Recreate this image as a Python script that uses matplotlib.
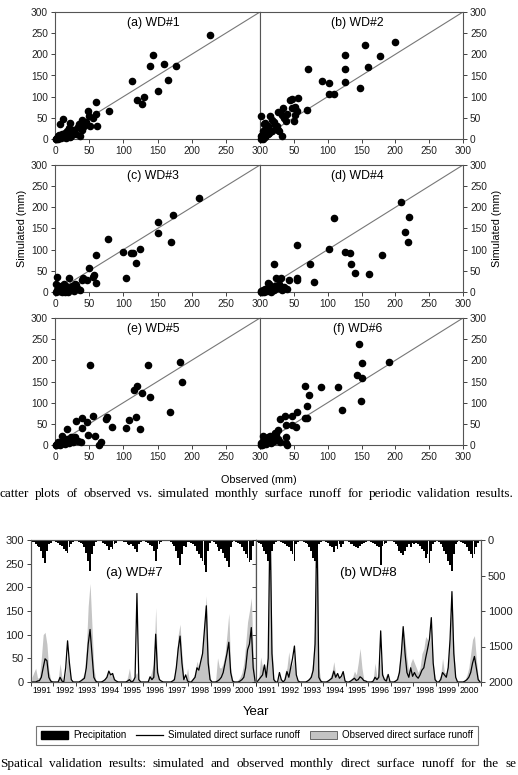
import matplotlib
matplotlib.use('Agg')
import matplotlib.pyplot as plt
import numpy as np
from matplotlib.patches import Patch
from matplotlib.lines import Line2D

plt.rcParams['font.family'] = ['Liberation Sans', 'DejaVu Sans']

# ---- scatter data: observed vs simulated (mm) ----
obs_wd1 = [227,144,139,159,177,166,113,150,120,130,128,79,60,60,49,56,61,51,39,33,37,11,7,22,27,17,15,5,2,
           3,6,8,10,12,14,18,20,24,28,30,35,42,45,50,4,9,13,19,25,1,16,22,40,44]
sim_wd1 = [246,199,172,177,172,140,136,113,93,99,83,65,87,60,65,50,30,30,46,28,8,48,36,38,22,18,8,6,0,
           2,10,4,12,6,15,10,25,8,20,12,35,30,40,55,0,3,5,15,12,1,2,5,22,35]
obs_wd2 = [200,155,178,125,125,159,71,92,102,125,148,102,109,69,56,48,44,51,47,51,50,54,34,27,32,39,15,2,27,32,12,22,7,17,2,
           1,3,5,8,10,14,18,20,25,4,6,12,28,36,40]
sim_wd2 = [229,221,197,199,165,169,166,136,132,135,120,106,106,69,98,95,93,76,73,57,42,65,73,63,57,42,55,54,22,8,30,34,38,18,6,
           0,10,20,5,25,15,45,40,30,0,35,12,20,50,60]
obs_wd3 = [211,173,151,151,170,77,100,114,111,125,119,104,60,50,57,60,56,41,39,47,29,20,3,
           1,3,5,7,9,11,13,15,17,19,22,25,28,31,34,2,6,10,14,18,24,30,36]
sim_wd3 = [221,181,166,140,118,125,95,92,91,101,68,34,87,57,41,21,36,33,28,28,20,33,36,
           0,5,10,2,15,8,18,4,12,0,6,14,3,10,8,20,2,0,0,5,12,16,5]
obs_wd4 = [209,220,215,219,110,54,102,125,133,134,141,180,161,74,80,20,54,54,43,31,23,12,
           1,2,4,6,8,10,12,15,18,20,22,25,28,32,36,40,3,7,14,16]
sim_wd4 = [212,178,142,117,175,110,101,95,92,66,45,87,42,66,24,66,33,28,28,33,32,22,
           0,2,5,1,8,3,10,6,12,4,15,9,18,5,12,8,0,2,20,0]
obs_wd5 = [51,136,183,186,120,115,127,139,168,119,109,104,125,83,76,75,55,49,58,68,40,47,31,40,17,38,29,
           1,3,5,7,9,11,13,15,18,21,24,27,2,6,10,14,20,26,33,65]
sim_wd5 = [189,189,195,150,140,130,124,113,79,66,58,39,37,42,67,61,69,24,22,8,63,55,57,39,37,8,20,
           0,2,6,1,8,4,12,3,15,10,18,6,0,3,22,12,5,14,10,0]
obs_wd6 = [146,151,190,143,151,149,121,116,90,67,73,70,67,70,55,48,37,30,39,47,53,39,39,27,22,15,
           1,2,4,6,8,10,12,14,16,18,20,23,26,29,3,5,9,13,40]
sim_wd6 = [238,193,197,166,158,103,83,138,137,140,118,93,63,63,77,69,69,61,47,47,42,20,4,36,28,22,
           0,5,10,3,15,8,20,12,5,18,10,25,15,8,0,22,2,12,0]
scatter_titles = ['(a) WD#1', '(b) WD#2', '(c) WD#3', '(d) WD#4', '(e) WD#5', '(f) WD#6']

# ---- monthly series 1991-2000 (mm) ----
years = [1991,1992,1993,1994,1995,1996,1997,1998,1999,2000]
sim_wd7 = [0,0,0,2,3,10,30,49,45,10,2,0,
           0,0,0,10,2,0,30,87,40,5,0,0,
           0,0,2,5,8,30,80,111,60,10,2,0,
           0,0,2,5,10,23,15,18,5,2,0,0,
           0,0,0,2,5,0,2,10,187,5,0,0,
           0,0,0,11,5,10,101,20,5,2,0,0,
           0,0,0,2,5,30,70,97,40,5,15,2,
           0,0,5,10,30,25,43,60,110,161,40,5,
           0,0,0,2,5,10,20,40,60,84,20,2,
           0,0,0,2,5,10,30,68,80,115,30,2]
obs_wd7 = [10,20,29,8,10,50,100,105,80,25,5,2,
           0,0,5,39,10,0,20,60,30,5,0,0,
           0,0,5,10,20,70,160,208,120,30,5,0,
           0,0,3,8,15,25,12,20,5,0,0,0,
           0,0,0,10,29,5,5,15,20,5,0,0,
           0,0,5,10,25,40,157,30,5,0,0,0,
           0,0,0,5,15,50,100,122,60,10,5,29,
           0,5,10,20,44,30,50,70,130,182,60,10,
           0,0,5,51,30,30,40,60,100,145,30,5,
           0,0,5,10,20,40,80,127,150,178,60,5]
prcp_wd7 = [25,30,50,80,100,150,250,329,150,60,40,20,
            20,25,40,70,90,120,150,188,100,50,30,15,
            20,30,40,60,100,180,300,437,200,80,30,20,
            15,20,40,60,80,140,100,120,60,40,20,10,
            20,25,35,50,70,60,80,120,164,60,30,15,
            20,30,40,70,90,150,296,120,60,30,20,15,
            15,20,30,60,90,150,250,352,200,80,100,30,
            30,40,60,80,150,200,250,300,350,455,150,40,
            20,30,50,100,150,120,180,250,300,375,100,30,
            20,30,40,60,100,150,200,250,305,280,80,20]
sim_wd8 = [0,5,10,15,36,10,50,350,60,5,0,0,
           20,5,0,5,22,10,30,50,76,15,2,0,
           0,0,0,2,5,10,25,80,350,10,2,0,
           0,0,2,5,8,23,10,18,8,12,22,2,
           0,0,2,5,8,3,5,11,8,3,2,0,
           0,0,2,10,5,10,108,15,5,2,16,0,
           0,0,2,5,20,60,117,60,20,10,30,12,
           20,12,8,15,25,30,51,70,90,136,40,5,
           0,0,5,20,15,10,30,90,191,60,10,0,
           0,0,0,2,5,10,20,40,54,30,5,0]
obs_wd8 = [0,10,53,30,40,20,80,350,80,10,0,0,
           15,5,0,20,30,64,30,40,60,10,0,0,
           0,0,0,5,10,20,50,130,350,30,5,0,
           0,0,5,10,20,43,15,20,10,15,20,0,
           0,0,5,10,23,15,40,71,30,5,0,0,
           0,0,5,40,10,20,60,20,5,15,5,0,
           0,0,5,15,40,80,115,87,50,20,40,50,
           40,30,20,30,60,70,96,90,80,120,40,10,
           0,5,15,50,20,20,40,100,191,70,10,0,
           0,0,2,5,15,30,60,90,98,50,10,0]
prcp_wd8 = [30,40,60,100,150,200,300,420,150,50,30,20,
            20,30,40,60,80,100,150,200,296,50,30,20,
            20,30,40,60,100,150,250,300,400,60,30,20,
            20,25,40,80,100,164,80,120,60,100,50,20,
            20,30,50,60,80,100,117,90,60,40,30,20,
            20,30,40,60,80,100,352,80,50,40,20,15,
            20,30,50,80,150,180,211,150,100,60,100,40,
            50,40,60,80,120,150,250,200,329,150,60,30,
            20,30,60,100,150,200,300,350,437,200,60,30,
            20,30,40,60,100,150,200,258,200,100,40,20]

caption1 = "catter plots of observed vs. simulated monthly surface runoff for periodic validation results."
caption2 = "Spatical validation results: simulated and observed monthly direct surface runoff for the se"

W, H = 518, 775
fig = plt.figure(figsize=(W/100, H/100), dpi=100)
spine_col = '#555555'

def px_axes(x0, y0, x1, y1):
    return fig.add_axes([x0/W, 1-y1/H, (x1-x0)/W, (y1-y0)/H])

def style(ax, size=7.3):
    for s in ax.spines.values():
        s.set_color(spine_col)
        s.set_linewidth(0.8)
    ax.tick_params(colors='#222222', labelsize=size, length=3, width=0.6, direction='out', pad=2)

# ---- scatter grid ----
obs_all = [obs_wd1, obs_wd2, obs_wd3, obs_wd4, obs_wd5, obs_wd6]
sim_all = [sim_wd1, sim_wd2, sim_wd3, sim_wd4, sim_wd5, sim_wd6]
cols = [(55, 260), (260, 463)]
rows = [(12, 139), (165, 292), (318, 445)]
for k in range(6):
    r, c = divmod(k, 2)
    ax = px_axes(cols[c][0], rows[r][0], cols[c][1], rows[r][1])
    ax.plot([0, 300], [0, 300], color='#777777', lw=0.8, zorder=1)
    ax.scatter(obs_all[k], sim_all[k], s=20, color='black', zorder=3, clip_on=False)
    ax.set_xlim(0, 300)
    ax.set_ylim(0, 300)
    ax.set_xticks(range(0, 301, 50))
    ax.set_yticks(range(0, 301, 50))
    style(ax)
    if c == 1:
        ax.yaxis.tick_right()
        # the shared corner already reads "300" from the left panel
        ax.set_xticklabels([''] + [str(v) for v in range(50, 301, 50)])
    ax.text(0.48, 0.91, scatter_titles[k], transform=ax.transAxes, ha='center', va='center', fontsize=8.8)
    if k == 2:
        ax.set_ylabel('Simulated (mm)', fontsize=7.8, labelpad=3)
    if k == 3:
        ax.yaxis.set_label_position('right')
        ax.set_ylabel('Simulated (mm)', fontsize=7.8, labelpad=4)

fig.text(259/W, 1-480/H, 'Observed (mm)', ha='center', va='center', fontsize=7.8)

# ---- time series panels ----
t = 1991 + np.arange(120)/12 + 1/24
panels = [((31, 256), sim_wd7, obs_wd7, prcp_wd7, '(a) WD#7'),
          ((256, 481), sim_wd8, obs_wd8, prcp_wd8, '(b) WD#8')]
for i, (xr, sim, obs, pr, lab) in enumerate(panels):
    ax = px_axes(xr[0], 540, xr[1], 682)
    ax.fill_between(t, obs, color='#c4c4c4', lw=0, zorder=1)
    ax.plot(t, sim, color='black', lw=0.9, zorder=2)
    ax.set_xlim(1991, 2001)
    ax.set_ylim(0, 300)
    ax.set_yticks(range(0, 301, 50))
    ax.set_xticks(range(1991, 2002))
    ax.set_xticklabels([])
    ax.set_xticks([y + 0.5 for y in years], minor=True)
    ax.set_xticklabels([str(y) for y in years], minor=True)
    style(ax, 8)
    ax.tick_params(axis='x', which='minor', length=0, labelsize=6.2, pad=3)
    if i == 1:
        ax.set_yticklabels([])
    axr = ax.twinx()
    axr.bar(t, pr, width=1/12, color='black', lw=0)
    axr.set_ylim(2000, 0)
    axr.set_yticks(range(0, 2001, 500))
    style(axr, 8)
    if i == 0:
        axr.set_yticklabels([])
    ax.text(0.46 if i == 0 else 0.5, 0.77, lab, transform=ax.transAxes, ha='center', va='center', fontsize=9.5)

fig.text(256/W, 1-712/H, 'Year', ha='center', va='center', fontsize=9.5)

handles = [Patch(facecolor='black', edgecolor='black'),
           Line2D([], [], color='black', lw=0.9),
           Patch(facecolor='#c4c4c4', edgecolor='#555555', lw=0.6)]
labels = ['Precipitation', 'Simulated direct surface runoff', 'Observed direct surface runoff']
leg = fig.legend(handles, labels, loc='center', bbox_to_anchor=(257/W, 1-735.5/H), ncol=3,
                 fontsize=7.0, fancybox=False, edgecolor='#555555', handlelength=2.8,
                 handleheight=0.9, columnspacing=1.0, borderpad=0.5, handletextpad=0.5)
leg.get_frame().set_linewidth(0.8)

# ---- justified captions ----
def caption(line, y_px, x0, x1, size=9.5):
    words = line.split()
    rend = fig.canvas.get_renderer()
    arts = [fig.text(0, 1-y_px/H, w, fontsize=size, family=['Liberation Serif'], va='baseline') for w in words]
    widths = [a.get_window_extent(rend).width for a in arts]
    gap = (x1 - x0 - sum(widths)) / (len(words) - 1)
    x = x0
    for a, w in zip(arts, widths):
        a.set_x(x/W)
        x += w + gap

caption(caption1, 497, 0, 514)
caption(caption2, 767, 0, 516)

fig.savefig('out.png', dpi=100)
